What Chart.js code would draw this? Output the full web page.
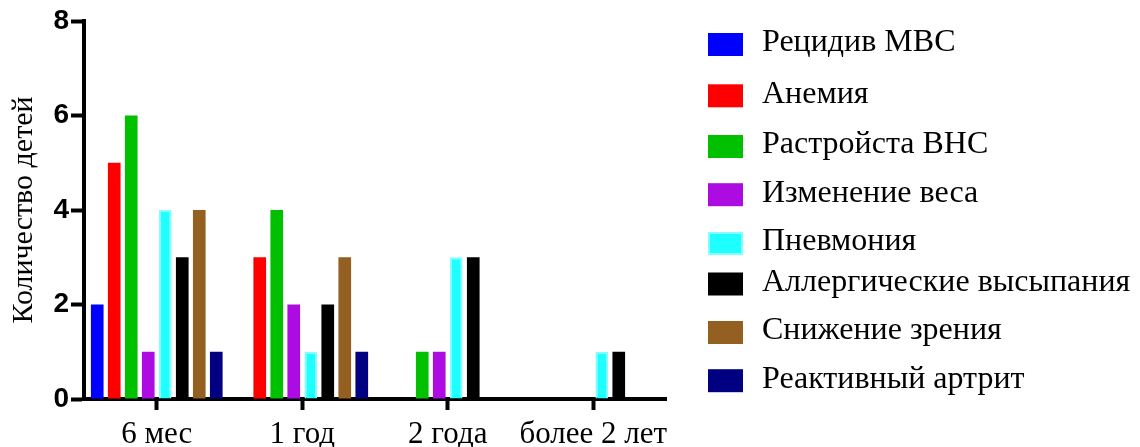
<!DOCTYPE html>
<html lang="ru">
<head>
<meta charset="utf-8">
<script src="https://cdn.jsdelivr.net/npm/chart.js@4/dist/chart.umd.min.js"></script>
<style>
  html, body { margin: 0; padding: 0; background: #fff; }
  #wrap { width: 1140px; height: 447px; }
</style>
</head>
<body>
<div id="wrap"><canvas id="c" width="1140" height="447"></canvas></div>
<script>
// Age groups along the x axis
const categories = ['6 мес', '1 год', '2 года', 'более 2 лет'];

// Number of children per complication, one value per age group
const recidivMVS   = [2, 0, 0, 0];
const anemia       = [5, 3, 0, 0];
const vnsDisorder  = [6, 4, 1, 0];
const weightChange = [1, 2, 1, 0];
const pneumonia    = [4, 1, 3, 1];
const allergyRash  = [3, 2, 3, 1];
const visionLoss   = [4, 3, 0, 0];
const reactArthr   = [1, 1, 0, 0];

const seriesNames = [
  'Рецидив МВС', 'Анемия', 'Растройста ВНС', 'Изменение веса',
  'Пневмония', 'Аллергические высыпания', 'Снижение зрения', 'Реактивный артрит'
];

const yTicks = [0, 2, 4, 6, 8];
const yTitle = 'Количество детей';

const serif = '"Liberation Serif", "Times New Roman", serif';
const sans = '"Liberation Sans", Arial, sans-serif';

function bars(label, data, fill, border) {
  return {
    label, data,
    backgroundColor: fill,
    borderColor: border || fill,
    borderWidth: border ? 2 : 0,
    borderSkipped: 'start',
    categoryPercentage: 0.935,
    barPercentage: 0.745
  };
}

// Legend on the right, drawn by hand so each row sits at its own height
const legendRowsY = [44.5, 95.8, 146.5, 194.7, 243.5, 284, 332.5, 380.7];
const sideLegend = {
  id: 'sideLegend',
  afterDraw(chart) {
    const ctx = chart.ctx;
    ctx.save();
    ctx.font = '32px ' + serif;
    ctx.textBaseline = 'middle';
    ctx.textAlign = 'left';
    chart.data.datasets.forEach((ds, i) => {
      const y = legendRowsY[i];
      const bx = 708, bw = 35, bh = 23;
      ctx.fillStyle = ds.backgroundColor;
      ctx.fillRect(bx, y - bh / 2, bw, bh);
      if (ds.borderWidth) {
        ctx.strokeStyle = ds.borderColor;
        ctx.lineWidth = 2;
        ctx.strokeRect(bx + 1, y - bh / 2 + 1, bw - 2, bh - 2);
      }
      ctx.fillStyle = '#000';
      ctx.fillText(ds.label, 762, y - 1.5);
    });
    ctx.restore();
  }
};

new Chart(document.getElementById('c'), {
  type: 'bar',
  data: {
    labels: categories,
    datasets: [
      bars(seriesNames[0], recidivMVS, '#0000ff'),
      bars(seriesNames[1], anemia, '#ff0000'),
      bars(seriesNames[2], vnsDisorder, '#00c000'),
      bars(seriesNames[3], weightChange, '#ac0ce2'),
      bars(seriesNames[4], pneumonia, '#1effff', '#84ffff'),
      bars(seriesNames[5], allergyRash, '#000000'),
      bars(seriesNames[6], visionLoss, '#946021'),
      bars(seriesNames[7], reactArthr, '#000080')
    ]
  },
  options: {
    responsive: false,
    animation: false,
    events: [],
    layout: { padding: { top: 21, right: 474, bottom: 0, left: 0 } },
    plugins: {
      legend: { display: false },
      tooltip: { enabled: false }
    },
    scales: {
      x: {
        offset: true,
        afterFit(scale) { scale.height = 48; },
        border: { display: true, color: '#000', width: 4 },
        grid: {
          offset: false,
          drawOnChartArea: false,
          drawTicks: true,
          tickLength: 11,
          tickWidth: 4,
          tickColor: '#000'
        },
        ticks: {
          color: '#000',
          padding: 6,
          maxRotation: 0,
          autoSkip: false,
          font: { family: serif, size: 31 }
        }
      },
      y: {
        min: 0,
        max: 8,
        afterFit(scale) { scale.width = 84; },
        afterBuildTicks(scale) { scale.ticks = yTicks.map(v => ({ value: v })); },
        border: { display: true, color: '#000', width: 4 },
        grid: {
          drawOnChartArea: false,
          drawTicks: true,
          tickLength: 13,
          tickWidth: 4,
          tickColor: '#000'
        },
        ticks: {
          color: '#000',
          padding: 2,
          font: { family: sans, size: 28, weight: 'bold' }
        },
        title: {
          display: true,
          text: yTitle,
          color: '#000',
          padding: { top: 6, bottom: 0 },
          font: { family: serif, size: 30 }
        }
      }
    }
  },
  plugins: [sideLegend]
});
</script>
</body>
</html>
